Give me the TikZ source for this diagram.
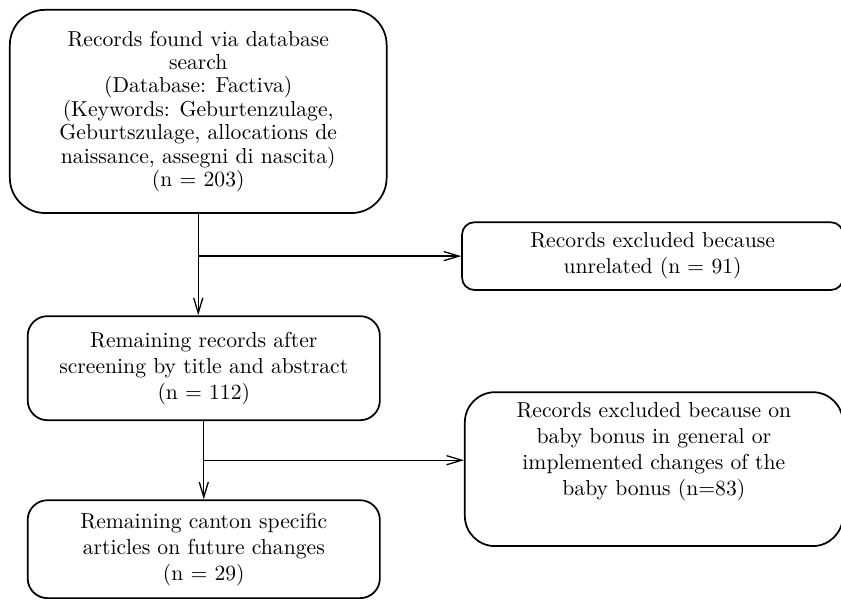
\documentclass[tikz,border=0pt]{standalone}
\usetikzlibrary{arrows.meta}

\begin{document}
\begin{tikzpicture}[
        >={Straight Barb[length=7pt, width=4.2pt]},
        record/.style={draw, thick, align=center},
        flow/.style={semithick, ->}
        ]
            %\draw[lightgray] (0, 0) grid (14, -10);
            \useasboundingbox (0, 0) rectangle (13.66, -9.73);

            \node[record, rounded corners=0.57cm, minimum width=6.12cm, minimum height=3.30cm,
                font=\linespread{0.9}\selectfont] (search) at (3.22, -1.81)
                {Records found via database\\ search\\ (Database: Factiva)\\
                 (Keywords: Geburtenzulage,\\ Geburtszulage, allocations de\\
                 naissance, assegni di nascita)\\ (n = 203)};
            \node[record, rounded corners=0.2cm, minimum width=6.19cm, minimum height=1.10cm]
                (unrelated) at (10.60, -4.16)
                {Records excluded because\\ unrelated (n = 91)};
            \node[record, rounded corners=0.32cm, minimum width=5.72cm, minimum height=1.69cm]
                (screened) at (3.31, -5.98)
                {Remaining records after\\ screening by title and abstract\\ (n = 112)};
            \node[record, rounded corners=0.49cm, minimum width=6.14cm, minimum height=2.50cm]
                (general) at (10.62, -7.62)
                {Records excluded because on\\ baby bonus in general or\\
                 implemented changes of the\\ baby bonus (n=83)\\[7pt] \mbox{}};
            \node[record, rounded corners=0.32cm, minimum width=5.72cm, minimum height=1.59cm]
                (canton) at (3.31, -8.92)
                {Remaining canton specific\\ articles on future changes\\ (n = 29)};

            \coordinate (split1) at (search.south |- unrelated.west);
            \path (screened.south) -- (canton.north) coordinate[pos=.5] (split2);

            \draw[flow] (search.south) -- (search.south |- screened.north);
            \draw[flow] (split1) -- (unrelated.west);

            \draw[flow] (screened.south) -- (canton.north);
            \draw[flow] (split2) -- (split2 -| general.west);
        \end{tikzpicture}
\end{document}
